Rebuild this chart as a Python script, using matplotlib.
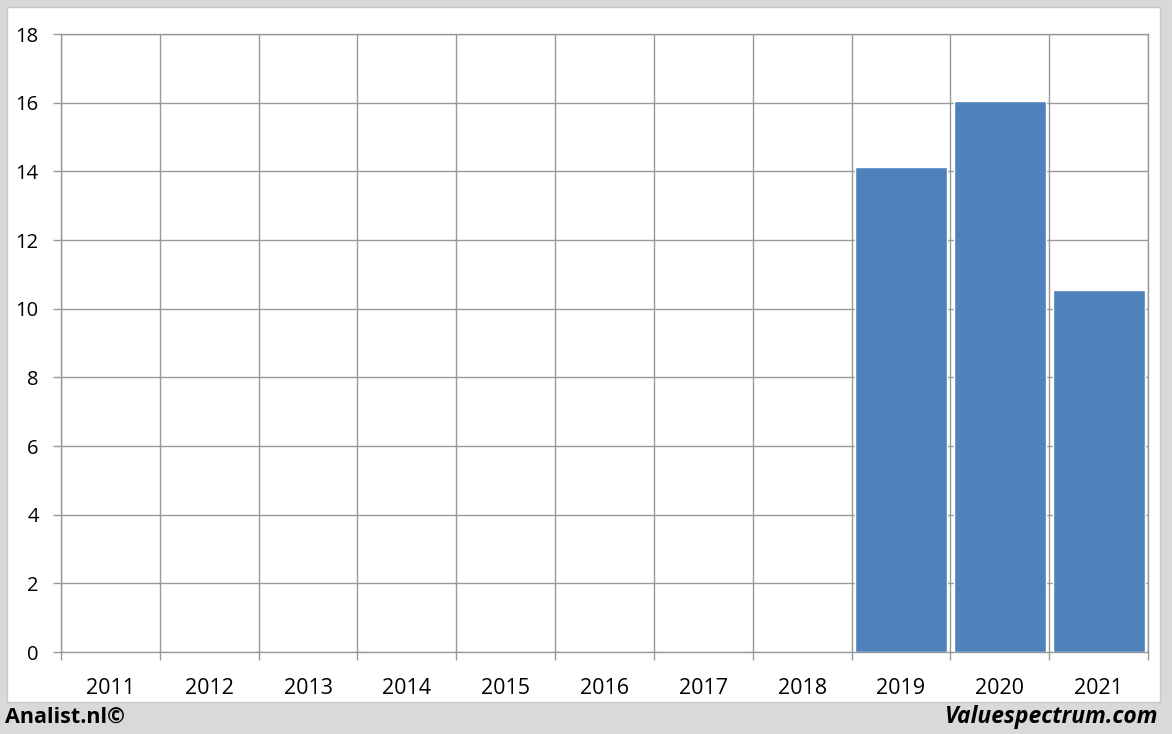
import numpy as np
import matplotlib.pyplot as plt
from matplotlib.patches import Rectangle

years = ['2011', '2012', '2013', '2014', '2015', '2016', '2017', '2018', '2019', '2020', '2021']
values = [0, 0, 0, 0, 0, 0, 0, 0, 14.12, 16.05, 10.55]

W, H = 1172, 734
fig = plt.figure(figsize=(W / 100, H / 100), dpi=100, facecolor='#d9d9d9')
plt.rcParams['font.family'] = ['Open Sans', 'DejaVu Sans']

# white panel
fig.patches.append(Rectangle((7 / W, 1 - 702 / H), (1160 - 7) / W, (702 - 7) / H,
                             transform=fig.transFigure, facecolor='white',
                             edgecolor='#c8c8c8', linewidth=1, zorder=-1))

ax = fig.add_axes([61 / W, 1 - 652 / H, (1148 - 61) / W, (652 - 34) / H])
ax.set_zorder(2)
ax.set_facecolor('none')

x = np.arange(len(years))
ax.bar(x, values, width=0.93, color='#4f81bd', edgecolor='white', linewidth=1, zorder=3)

ax.set_xlim(-0.5, len(years) - 0.5)
ax.set_ylim(0, 18)
ax.set_yticks(np.arange(0, 19, 2))
ax.set_xticks(x)
ax.set_xticklabels(years)
ax.set_xticks(np.arange(-0.5, len(years), 1), minor=True)

ax.grid(True, axis='y', color='#999999', linewidth=1, zorder=1)
ax.grid(True, axis='x', which='minor', color='#999999', linewidth=1, zorder=1)
ax.tick_params(axis='x', which='major', length=0, pad=19, labelsize=15.5)
ax.tick_params(axis='x', which='minor', length=6, color='#999999', width=1)
ax.tick_params(axis='y', length=6, color='#999999', width=1, pad=10, labelsize=14.5)
for s in ax.spines.values():
    s.set_color('#999999')
    s.set_linewidth(1)
    s.set_zorder(1)

fig.text(5 / W, 1 - 717 / H, 'Analist.nl©', fontsize=15.5, fontweight='bold',
         ha='left', va='center')
fig.text(1158 / W, 1 - 717 / H, 'Valuespectrum.com', fontsize=16.5, fontweight='bold',
         fontstyle='italic', ha='right', va='center')

fig.savefig('out.png', dpi=100, facecolor=fig.get_facecolor())
